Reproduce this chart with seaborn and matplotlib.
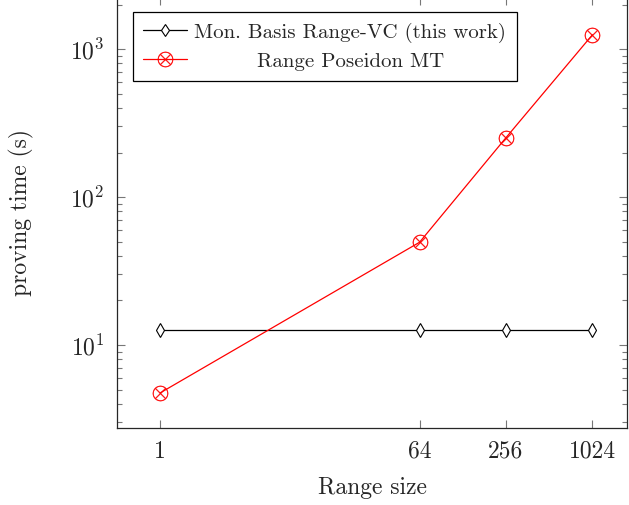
import pandas as pd
import seaborn as sns
import matplotlib.pyplot as plt

sns.set_style('ticks')
plt.rcParams['font.family'] = ['cmr10', 'DejaVu Serif']
plt.rcParams['mathtext.fontset'] = 'cm'
plt.rcParams['axes.formatter.use_mathtext'] = True

range_size = [1, 64, 256, 1024]
mon_basis = [12.6, 12.6, 12.6, 12.6]
poseidon = [4.75, 49.5, 252, 1250]

df = pd.concat([
    pd.DataFrame({'size': range_size, 'time': mon_basis, 'method': 'Mon. Basis Range-VC (this work)'}),
    pd.DataFrame({'size': range_size, 'time': poseidon, 'method': 'Range Poseidon MT'}),
])

fig = plt.figure(figsize=(6.29, 5.05), dpi=100)
# top edge of the axes sits just above the picture, as in the reference
ax = fig.add_axes([117 / 629, (505 - 428) / 505, (627 - 117) / 629, 431 / 505])

sns.lineplot(data=df[df.method.str.startswith('Mon')], x='size', y='time', ax=ax,
             color='black', lw=0.9, marker='d', markersize=7, markerfacecolor='white',
             markeredgecolor='black', markeredgewidth=0.8, label='Mon. Basis Range-VC (this work)')
sns.lineplot(data=df[df.method.str.startswith('Range')], x='size', y='time', ax=ax,
             color='red', lw=0.9, marker=r'$\otimes$', markersize=11, markeredgewidth=0.3,
             markeredgecolor='red', label='Range Poseidon MT')

ax.set_xscale('log', base=2)
ax.set_yscale('log')
ax.set_xlim(2 ** -1.0, 2 ** 10.8)
ax.set_ylim(2.75, 2250)
ax.set_xticks(range_size)
ax.set_xticklabels([str(v) for v in range_size])
ax.minorticks_off()
ax.set_yticks([10, 100, 1000])
ax.set_yticks([v * d for d in [1, 10, 100, 1000] for v in range(2, 10) if 2.75 < v * d < 2250], minor=True)
ax.yaxis.set_minor_formatter(plt.NullFormatter())
ax.tick_params(which='both', direction='in', top=True, right=True, color='#777777', labelsize=17, width=0.8)
ax.tick_params(which='major', length=6, pad=9)
ax.tick_params(which='minor', length=3.5)
for s in ax.spines.values():
    s.set_linewidth(0.9)

ax.set_xlabel('Range size', fontsize=17, labelpad=10)
ax.set_ylabel('proving time (s)', fontsize=17, labelpad=26)

leg = ax.legend(loc='upper left', bbox_to_anchor=(0.031, 0.965), borderaxespad=0, fontsize=15,
                frameon=True, fancybox=False, edgecolor='black', framealpha=1, borderpad=0.5,
                handlelength=2.1, handletextpad=0.35, labelspacing=0.45)
leg.get_frame().set_linewidth(0.9)
leg.legend_handles[0].set_markersize(6)

# centre the second label under the first one, like pgfplots does
fig.canvas.draw()
r = fig.canvas.get_renderer()
w = [t.get_window_extent(r).width for t in leg.get_texts()]
rows = leg._legend_handle_box.get_children()[0].get_children()
rows[1].sep = rows[0].sep + (w[0] - w[1]) / 2 * 72 / fig.dpi

fig.savefig('out.png', dpi=100)
